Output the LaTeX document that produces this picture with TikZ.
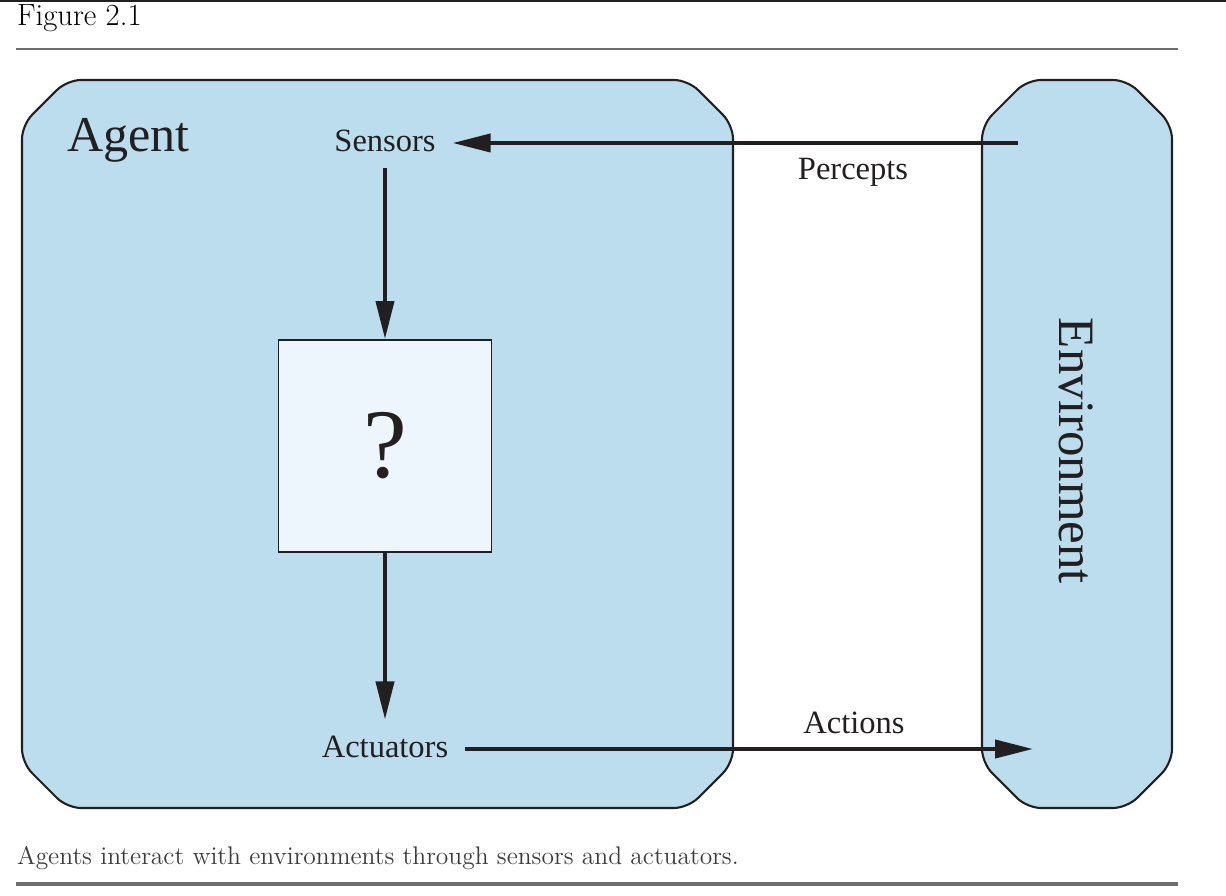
\documentclass[tikz,border=0pt]{standalone}
\usepackage{fontspec}
\usepackage{tikz}
\usetikzlibrary{arrows.meta}
\newfontfamily\figfont{Liberation Serif}
\definecolor{agentblue}{RGB}{188,221,237}
\definecolor{boxpale}{RGB}{238,246,253}
\definecolor{inkdark}{RGB}{35,31,32}
\definecolor{rulegray}{RGB}{110,110,110}
\definecolor{captiongray}{RGB}{60,60,60}

\begin{document}
\begin{tikzpicture}[line width=1.2pt,
  panel/.style={draw=inkdark, fill=agentblue, rounded corners=0.28cm},
  flowtext/.style={font=\figfont\fontsize{18.5}{22}\selectfont, text=inkdark, anchor=base, inner xsep=0.32cm, inner ysep=0.3cm},
  bigtext/.style={font=\figfont\fontsize{29}{34}\selectfont, text=inkdark},
  flow/.style={draw=inkdark, line width=2.3pt, -{Triangle[length=0.76cm,width=0.36cm]}}]
\useasboundingbox (0.000,0.000) rectangle (24.520,17.900);
\draw[draw=inkdark, line width=1.1pt] (0.000,17.880) -- (24.520,17.880);
\node[anchor=base west, inner sep=0pt, text=black, font=\fontsize{17.5}{20}\selectfont] (fig) at (0.320,17.380) {Figure 2.1};
\draw[draw=rulegray, line width=1.1pt] (0.320,16.920) -- (23.560,16.920);
\draw[panel] (0.440,15.400) -- (0.440,2.640) -- (1.340,1.740) -- (13.760,1.740) -- (14.660,2.640) -- (14.660,15.400) -- (13.760,16.300) -- (1.340,16.300) -- cycle;
\draw[panel] (19.640,15.400) -- (19.640,2.640) -- (20.540,1.740) -- (22.540,1.740) -- (23.440,2.640) -- (23.440,15.400) -- (22.540,16.300) -- (20.540,16.300) -- cycle;
\node[bigtext, anchor=base west, inner sep=0pt, font=\figfont\fontsize{28.5}{34}\selectfont] (agent) at (1.320,14.860) {Agent};
\node[bigtext, rotate=-90] (env) at (21.520,8.880) {Environment};
\node[flowtext] (sensors) at (7.700,14.860) {Sensors};
\node[flowtext] (actuators) at (7.700,2.760) {Actuators};
\node[draw=inkdark, fill=boxpale, line width=1.1pt, minimum width=4.26cm, minimum height=4.24cm, inner sep=0pt, font=\figfont\fontsize{56}{60}\selectfont, text=inkdark] (brain) at (7.700,8.980) {?};
\node[flowtext, inner sep=0pt] (percepts) at (17.060,14.300) {Percepts};
\node[flowtext, inner sep=0pt] (actions) at (17.080,3.240) {Actions};
\coordinate (pin) at (20.360,15.040);
\coordinate (aout) at (20.660,2.920);
\draw[flow] (pin) -- (pin -| sensors.east);
\draw[flow] (sensors) -- (brain);
\draw[flow] (brain) -- (actuators);
\draw[flow] (actuators.east |- aout) -- (aout);
\node[anchor=base west, inner sep=0pt, text=captiongray, font=\fontsize{14.5}{17}\selectfont] (caption) at (0.320,0.620) {Agents interact with environments through sensors and actuators.};
\draw[draw=rulegray, line width=1.8pt] (0.320,0.220) -- (23.560,0.220);
\end{tikzpicture}
\end{document}
